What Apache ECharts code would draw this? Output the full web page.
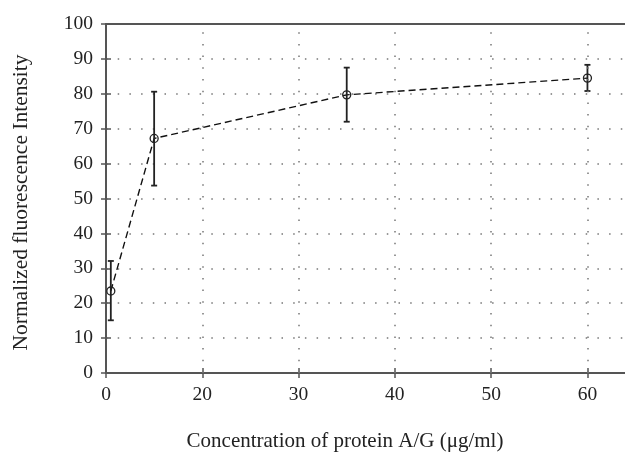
<!DOCTYPE html>
<html>
<head>
<meta charset="utf-8">
<script src="https://cdn.jsdelivr.net/npm/echarts@6/dist/echarts.min.js"></script>
<style>html,body{margin:0;padding:0;background:#fff;}#c{width:625px;height:453px;}</style>
</head>
<body>
<div id="c"></div>
<script>
// Axis tick positions (axis units) and their printed labels
const xTickValues = [10, 20, 30, 40, 50, 60];
const xTickLabels = ["0", "20", "30", "40", "50", "60"];
// Data points (x in axis units)
const xValues = [10.5, 15, 35, 60];
const meanValues = [23.5, 67.2, 79.7, 84.5];
const errLow = [15.1, 53.7, 72.0, 80.8];
const errHigh = [32.1, 80.6, 87.5, 88.3];

const xTitle = "Concentration of protein A/G (\u03bcg/ml)";
const yTitle = "Normalized fluorescence Intensity";

const FONT = "Liberation Serif";
const AXIS_COLOR = "#555";
const GRID_COLOR = "#777";
const NONE = "rgba(0,0,0,0)";
const X_MIN = 10, X_MAX = 63.9;

const lineData = xValues.map((x, i) => [x, meanValues[i]]);
const errData = xValues.map((x, i) => [x, errLow[i], errHigh[i]]);

const chart = echarts.init(document.getElementById('c'), null, {renderer: 'canvas'});

const dotStyle = {color: GRID_COLOR, width: 1.5, type: [1.5, 10.2]};

chart.setOption({
  animation: false,
  backgroundColor: '#fff',
  grid: {left: 106, right: 0, top: 24, bottom: 80, containLabel: false, outerBoundsMode: 'none'},
  xAxis: [
    {
      type: 'value', position: 'bottom', min: X_MIN, max: X_MAX, interval: 10,
      axisLine: {show: true, lineStyle: {color: AXIS_COLOR, width: 2}},
      axisTick: {show: true, inside: false, length: 5, customValues: xTickValues,
        lineStyle: {color: AXIS_COLOR, width: 1.5}},
      axisLabel: {
        show: true, margin: 12, color: '#222', fontFamily: FONT, fontSize: 19.5,
        customValues: xTickValues,
        formatter: v => { const k = xTickValues.indexOf(v); return k >= 0 ? xTickLabels[k] : ''; }
      },
      splitLine: {show: false},
      name: xTitle, nameLocation: 'middle', nameGap: 58,
      nameTextStyle: {color: '#222', fontFamily: FONT, fontSize: 21, padding: [0, 41, 0, 0]}
    },
    {
      type: 'value', position: 'bottom', min: X_MIN, max: X_MAX, interval: 10,
      axisLine: {show: false},
      axisTick: {show: true, inside: true, length: 5, customValues: xTickValues,
        lineStyle: {color: AXIS_COLOR, width: 1.5}},
      axisLabel: {show: false}, splitLine: {show: false}
    },
    {
      type: 'value', position: 'top', min: X_MIN, max: X_MAX, interval: 10,
      axisLine: {show: true, lineStyle: {color: AXIS_COLOR, width: 2}},
      axisTick: {show: false}, axisLabel: {show: false}, splitLine: {show: false}
    }
  ],
  yAxis: [
    {
      type: 'value', position: 'left', min: 0, max: 100, interval: 10,
      axisLine: {show: true, lineStyle: {color: AXIS_COLOR, width: 2}},
      axisTick: {show: true, inside: false, length: 5, lineStyle: {color: AXIS_COLOR, width: 1.5}},
      axisLabel: {show: true, margin: 13, color: '#222', fontFamily: FONT, fontSize: 19.5},
      splitLine: {show: true, showMinLine: false, showMaxLine: false, lineStyle: dotStyle},
      name: yTitle, nameLocation: 'middle', nameGap: 74, nameRotate: 90,
      nameTextStyle: {color: '#222', fontFamily: FONT, fontSize: 21.5, padding: [0, 8, 0, 0]}
    },
    {
      type: 'value', position: 'left', min: 0, max: 100, interval: 10,
      axisLine: {show: false},
      axisTick: {show: true, inside: true, length: 5, lineStyle: {color: AXIS_COLOR, width: 1.5}},
      axisLabel: {show: false}, splitLine: {show: false}
    }
  ],
  series: [
    {
      type: 'line', xAxisIndex: 0, yAxisIndex: 0, data: [], z: 1,
      silent: true, showSymbol: false,
      markLine: {
        silent: true, symbol: 'none', label: {show: false},
        lineStyle: dotStyle,
        emphasis: {disabled: true},
        data: xTickValues.slice(1).map(v => ({xAxis: v}))
      }
    },
    {
      type: 'line', xAxisIndex: 0, yAxisIndex: 0, data: lineData, z: 3,
      lineStyle: {color: '#111', width: 1.4, type: [7, 4]},
      symbol: 'circle', symbolSize: 8, showSymbol: true,
      itemStyle: {color: NONE, borderColor: '#222', borderWidth: 1.3}
    },
    {
      type: 'custom', xAxisIndex: 0, yAxisIndex: 0, data: errData, z: 4,
      renderItem: function (params, api) {
        const top = api.coord([api.value(0), api.value(2)]);
        const bot = api.coord([api.value(0), api.value(1)]);
        const w = 3;
        const st = {stroke: '#222', lineWidth: 1.8};
        return {
          type: 'group',
          children: [
            {type: 'line', shape: {x1: top[0], y1: top[1], x2: bot[0], y2: bot[1]}, style: st},
            {type: 'line', shape: {x1: top[0] - w, y1: top[1], x2: top[0] + w, y2: top[1]}, style: st},
            {type: 'line', shape: {x1: bot[0] - w, y1: bot[1], x2: bot[0] + w, y2: bot[1]}, style: st}
          ]
        };
      }
    }
  ]
});
</script>
</body>
</html>
